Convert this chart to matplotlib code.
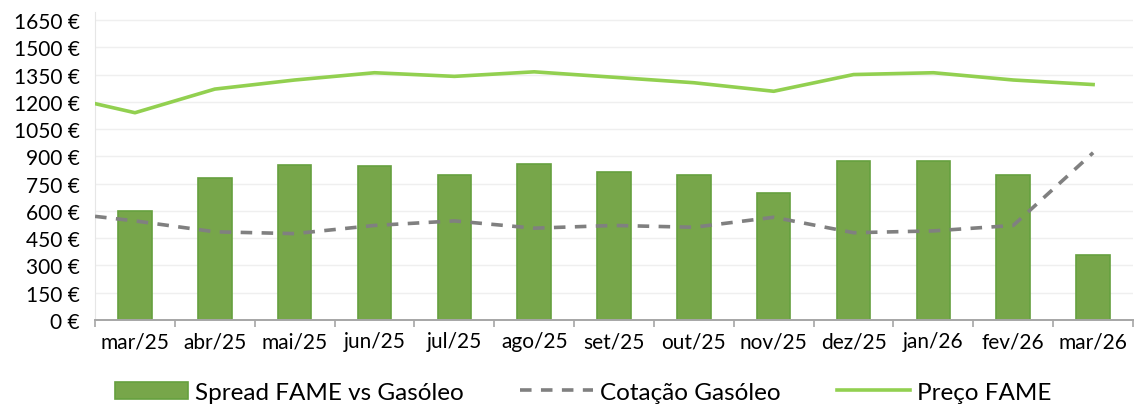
import numpy as np
import matplotlib
matplotlib.use("Agg")
import matplotlib.pyplot as plt
from matplotlib.ticker import FixedLocator

plt.rcParams['font.family'] = ['Lato', 'DejaVu Sans']

# data
months = ["mar/25", "abr/25", "mai/25", "jun/25", "jul/25", "ago/25", "set/25",
          "out/25", "nov/25", "dez/25", "jan/26", "fev/26", "mar/26"]
spread = [600, 782, 850, 845, 798, 860, 815, 798, 698, 873, 873, 798, 358]
# lines carry one extra leading point at the left edge of the axis
line_pos = [-0.5, 0, 1, 2, 3, 4, 5, 6, 7, 8, 9, 10, 11, 12]
cotacao = [570, 545, 485, 475, 520, 545, 505, 520, 510, 565, 480, 490, 520, 920]
preco = [1190, 1140, 1270, 1320, 1360, 1340, 1365, 1335, 1305, 1258, 1350, 1360, 1320, 1295]
yticks = list(range(0, 1651, 150))

fig = plt.figure(figsize=(11.37, 4.06), dpi=100)
ax = fig.add_axes([0.0836, 0.2094, 0.9129, 0.759])

x = np.arange(len(months))
bars = ax.bar(x, spread, width=0.42, color="#77A64A", edgecolor="#66A03E", linewidth=1.2,
              label="Spread FAME vs Gasóleo", zorder=2)
l1, = ax.plot(line_pos, cotacao, color="#808080", lw=2.6, ls=(0, (3.2, 2.6)),
              label="Cotação Gasóleo", zorder=3)
l2, = ax.plot(line_pos, preco, color="#92D050", lw=2.6, label="Preço FAME", zorder=3)

ax.set_xlim(-0.5, 12.5)
ax.set_ylim(0, 1695)
ax.set_yticks(yticks)
ax.set_yticklabels([f"{v} €" for v in yticks], fontsize=15)
ax.yaxis.grid(True, color="#EFEFEF", lw=1.0, zorder=0)
ax.set_axisbelow(True)

ax.set_xticks(x)
ax.set_xticklabels(months, fontsize=15)
ax.xaxis.set_minor_locator(FixedLocator(np.arange(-0.5, 13, 1)))
ax.tick_params(axis="x", which="major", length=0, pad=8)
ax.tick_params(axis="x", which="minor", length=5, color="#A6A6A6", width=1.2)
ax.tick_params(axis="y", length=0, pad=11)

for s in ["top", "right"]:
    ax.spines[s].set_visible(False)
ax.spines["left"].set_color("#E6E6E6")
ax.spines["bottom"].set_color("#A6A6A6")
ax.spines["bottom"].set_linewidth(1.4)

fig.legend([bars, l1, l2], ["Spread FAME vs Gasóleo", "Cotação Gasóleo", "Preço FAME"],
           loc="center", bbox_to_anchor=(0.513, 0.032), ncol=3, frameon=False,
           fontsize=17.5, handlelength=3.0, handletextpad=0.3, columnspacing=2.3)

fig.savefig("out.png", dpi=100)
